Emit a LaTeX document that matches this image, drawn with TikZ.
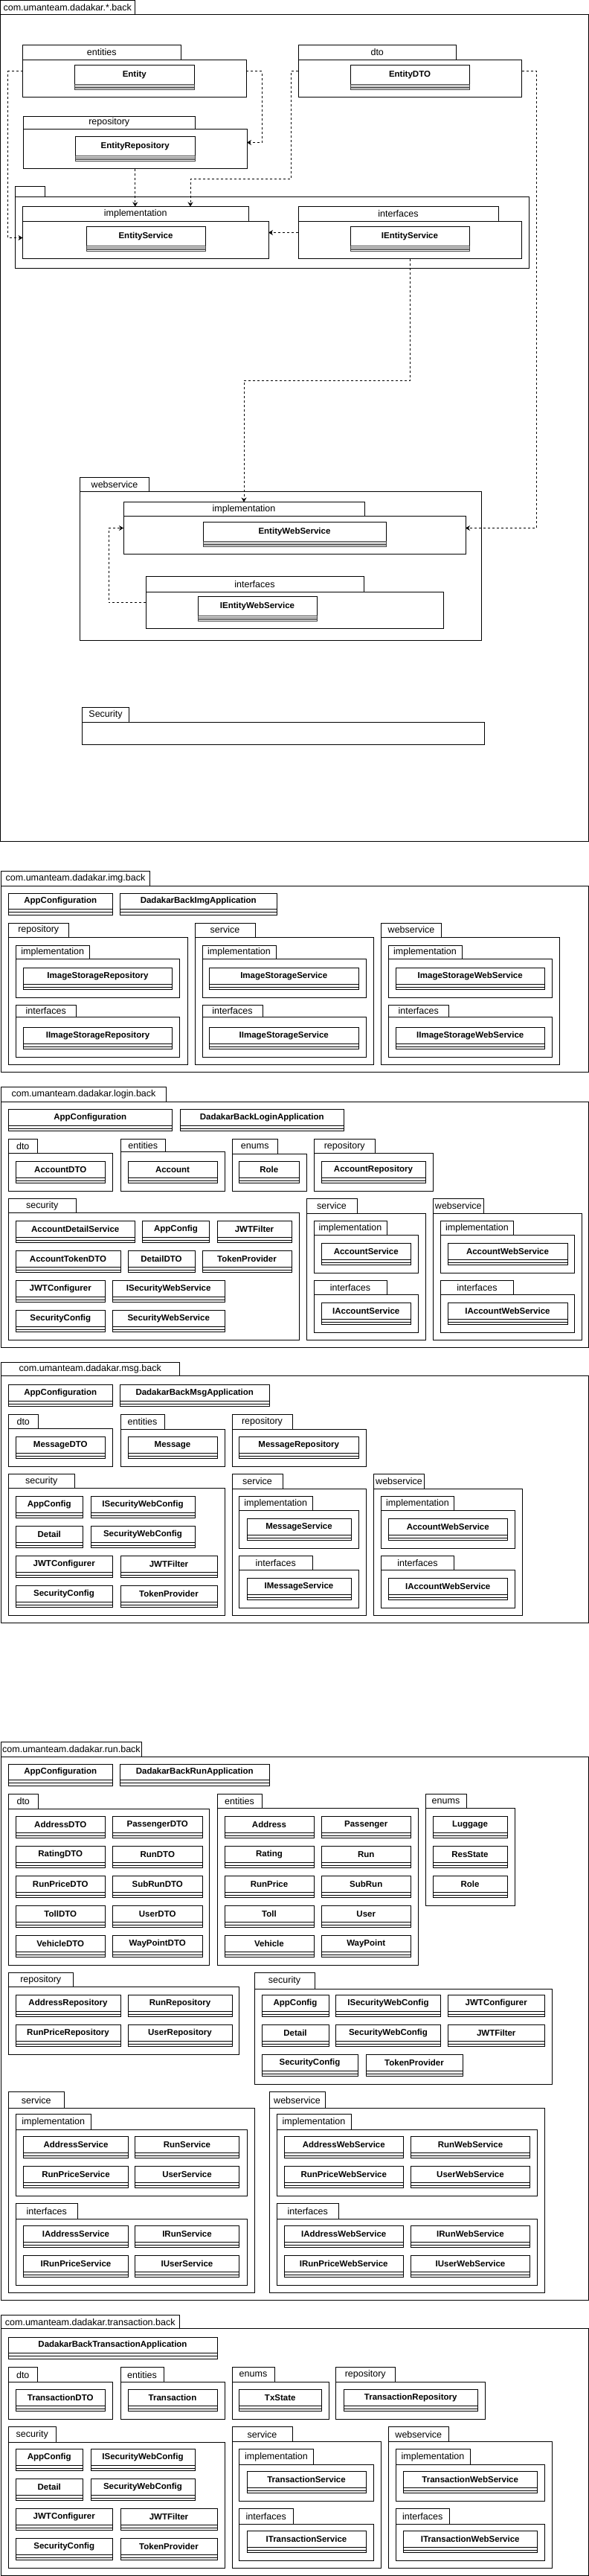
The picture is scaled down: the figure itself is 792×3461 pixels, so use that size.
\documentclass[tikz,border=0pt]{standalone}
\usepackage{fontspec}
\setmainfont{Liberation Sans}
\usetikzlibrary{arrows.meta}

\tikzset{
  pkgbody/.style={draw, line width=1pt, anchor=north west, inner sep=0pt, outer sep=0pt},
  pkgtab/.style={draw, line width=1pt, anchor=south west, inner sep=0pt, outer sep=0pt,
    font=\fontsize{12.5}{14}\selectfont},
  clsname/.style={draw, line width=1pt, anchor=north west, inner sep=0pt, outer sep=0pt,
    minimum height=21.5pt, font=\fontsize{11.5}{13}\selectfont\bfseries},
  dep/.style={line width=0.8pt, dash pattern=on 3pt off 3pt,
    -{Stealth[length=6pt,width=7pt,inset=2pt]}}
}

% name, x, y, width, height, tab width, tab height, label
\newcommand{\umlpkg}[8]{%
  \node[pkgbody, minimum width=#4pt, minimum height=#5pt] (#1) at (#2,#3) {};
  \node[pkgtab, minimum width=#6pt, minimum height=#7pt] (#1-tab) at (#1.north west) {#8};
}
% name, x, y, width, text
\newcommand{\umlclass}[5]{%
  \node[clsname, minimum width=#4pt] (#1) at (#2,#3) {#5};
  \draw[line width=1pt] (#1.south west) rectangle ([yshift=-7.5pt]#1.south east);
  \draw[line width=1pt] ([yshift=-4pt]#1.south west) -- ([yshift=-4pt]#1.south east);
}
\newcommand{\umlbigclass}[5]{%
  \node[clsname, minimum width=#4pt, minimum height=26pt] (#1) at (#2,#3) {#5};
  \draw[gray, line width=1pt] ([yshift=-1.8pt]#1.south west) -- ([yshift=-1.8pt]#1.south east);
  \draw[darkgray, line width=1pt] ([yshift=-3.5pt]#1.south west) -- ([yshift=-3.5pt]#1.south east);
  \draw[gray, line width=1pt] ([yshift=-5.2pt]#1.south west) -- ([yshift=-5.2pt]#1.south east);
  \draw[darkgray, line width=1pt] (#1.south west) rectangle ([yshift=-7pt]#1.south east);
}

\begin{document}
\begin{tikzpicture}[x=1pt,y=-1pt]
  \useasboundingbox (0,0) rectangle (792,3461);
  \fill[white] (0,0) rectangle (792,3461);

  % com.umanteam.dadakar.*.back
  \umlpkg{all}{0.5}{19.5}{791}{1110.5}{180.5}{19}{com.umanteam.dadakar.*.back}
  \umlpkg{ent}{30.5}{80}{300.5}{50.5}{212.5}{20}{entities}
  \umlbigclass{entity}{100.5}{87.5}{160.5}{Entity}
  \umlpkg{dto}{401}{80}{300.5}{50.5}{212.5}{20}{dto}
  \umlbigclass{entitydto}{471}{87.5}{160}{EntityDTO}
  \umlpkg{repo}{31.5}{173.5}{300.5}{53}{230.5}{17.5}{repository}
  \umlbigclass{entityrepo}{101.5}{183.5}{160.5}{EntityRepository}
  \umlpkg{srv}{20}{264.5}{691.5}{96}{40.5}{14}{}
  \umlpkg{impl}{30.5}{297}{330.5}{50.5}{303.5}{19.5}{implementation}
  \umlbigclass{entityservice}{116}{304.5}{160}{EntityService}
  \umlpkg{itf}{401}{297}{300.5}{50.5}{269}{19.5}{interfaces}
  \umlbigclass{ientityservice}{471}{304.5}{160}{IEntityService}
  \umlpkg{ws}{107.5}{660.5}{540}{200}{93}{19}{webservice}
  \umlpkg{wsimpl}{166}{693.5}{460}{51}{324}{19}{implementation}
  \umlbigclass{entitywebservice}{273}{701.5}{246}{EntityWebService}
  \umlpkg{wsitf}{196}{795.5}{400.5}{49}{293}{21}{interfaces}
  \umlbigclass{ientitywebservice}{266}{801.5}{160}{IEntityWebService}
  \umlpkg{sec}{110.5}{970.5}{541}{30}{63}{20}{Security}

  \coordinate (dtobend) at (256,240);
  \draw[dep] ([yshift=-15.5pt]ent.north west) -- ++(-20,0) |- ([yshift=-22.5pt]impl.north west);
  \draw[dep] ([yshift=-15.5pt]ent.north east) -- ++(21,0) |- ([yshift=-18pt]repo.north east);
  \draw[dep] (repo.south) -- (repo.south |- impl-tab.north);
  \draw[dep] ([yshift=-15.5pt]dto.north west) -- ++(-9.5,0) |- (dtobend) -- (dtobend |- impl-tab.north);
  \draw[dep] ([yshift=-15.5pt]itf.north west) -- ([yshift=-15.5pt]impl.north east);
  \draw[dep] (itf.south) -- ++(0,164) -| (wsimpl-tab.north);
  \draw[dep] ([yshift=-15.5pt]dto.north east) -- ++(19.5,0) |- ([yshift=-16pt]wsimpl.north east);
  \draw[dep] ([yshift=-14pt]wsitf.north west) -- ++(-50,0) |- ([yshift=-16pt]wsimpl.north west);

  % com.umanteam.dadakar.img.back
  \umlpkg{img}{1.5}{1190.5}{790}{249.5}{200}{20}{com.umanteam.dadakar.img.back}
  \umlclass{img-appconf}{11}{1200}{140.5}{AppConfiguration}
  \umlclass{img-app}{161.5}{1200}{210.5}{DadakarBackImgApplication}
  \umlpkg{img-repo}{11}{1259}{241}{171.5}{81.5}{19}{repository}
  \umlpkg{img-repo-impl}{21}{1288.5}{220.5}{52}{99.5}{18}{implementation}
  \umlclass{img-isr}{31.5}{1300.5}{200}{ImageStorageRepository}
  \umlpkg{img-repo-itf}{21}{1366.5}{220.5}{54}{81.5}{16}{interfaces}
  \umlclass{img-iisr}{31.5}{1380.5}{200}{IImageStorageRepository}
  \umlpkg{img-srv}{262}{1259}{240.5}{171.5}{81}{19}{service}
  \umlpkg{img-srv-impl}{272}{1288.5}{220}{52}{99}{18}{implementation}
  \umlclass{img-iss}{281.5}{1300.5}{200.5}{ImageStorageService}
  \umlpkg{img-srv-itf}{272}{1366.5}{220}{54}{81}{16}{interfaces}
  \umlclass{img-iiss}{281.5}{1380.5}{200.5}{IImageStorageService}
  \umlpkg{img-ws}{512.5}{1259}{240}{171.5}{81}{19}{webservice}
  \umlpkg{img-ws-impl}{522}{1288.5}{220.5}{52}{99}{18}{implementation}
  \umlclass{img-isws}{532}{1300.5}{200.5}{ImageStorageWebService}
  \umlpkg{img-ws-itf}{522}{1366.5}{220.5}{54}{81.5}{16}{interfaces}
  \umlclass{img-iisws}{532}{1380.5}{200.5}{IImageStorageWebService}

  % com.umanteam.dadakar.login.back
  \umlpkg{login}{1.5}{1480.5}{790}{330}{222}{20}{com.umanteam.dadakar.login.back}
  \umlclass{login-appconf}{11}{1490.5}{220.5}{AppConfiguration}
  \umlclass{login-app}{242}{1490.5}{220.5}{DadakarBackLoginApplication}
  \umlpkg{login-dto}{11}{1549.5}{140.5}{51}{39.5}{19}{dto}
  \umlclass{login-accountdto}{21}{1560.5}{120.5}{AccountDTO}
  \umlpkg{login-ent}{162}{1547.5}{140}{53}{60.5}{17}{entities}
  \umlclass{login-account}{172}{1560.5}{120}{Account}
  \umlpkg{login-enums}{312}{1550.5}{100}{50}{61.5}{20}{enums}
  \umlclass{login-role}{321.5}{1560.5}{80.5}{Role}
  \umlpkg{login-repo}{422}{1549.5}{160}{51}{82.5}{19}{repository}
  \umlclass{login-accountrepo}{432}{1560.5}{140}{AccountRepository}
  \umlpkg{login-sec}{11}{1629.5}{391}{170.5}{91.5}{19}{security}
  \umlclass{login-ads}{21}{1640.5}{160.5}{AccountDetailService}
  \umlclass{login-appconfig}{191.5}{1640.5}{90}{AppConfig}
  \umlclass{login-jwtfilter}{292}{1640.5}{100}{JWTFilter}
  \umlclass{login-atdto}{21}{1680.5}{141}{AccountTokenDTO}
  \umlclass{login-detaildto}{172}{1680.5}{90}{DetailDTO}
  \umlclass{login-tokenprov}{272}{1680.5}{120}{TokenProvider}
  \umlclass{login-jwtconf}{21}{1720.5}{120.5}{JWTConfigurer}
  \umlclass{login-isws}{151.5}{1720.5}{150.5}{ISecurityWebService}
  \umlclass{login-secconf}{21}{1760.5}{120.5}{SecurityConfig}
  \umlclass{login-sws}{151.5}{1760.5}{150.5}{SecurityWebService}
  \umlpkg{login-srv}{412}{1630.5}{160}{169.5}{68}{20}{service}
  \umlpkg{login-srv-impl}{422}{1659.5}{140.5}{51}{98}{19}{implementation}
  \umlclass{login-as}{432}{1670.5}{120.5}{AccountService}
  \umlpkg{login-srv-itf}{422}{1739.5}{140.5}{51}{98}{19}{interfaces}
  \umlclass{login-ias}{432}{1750.5}{120.5}{IAccountService}
  \umlpkg{login-ws}{582}{1630.5}{200.5}{169.5}{68.5}{20}{webservice}
  \umlpkg{login-ws-impl}{592.5}{1659.5}{180}{51}{98}{19}{implementation}
  \umlclass{login-aws}{602}{1670.5}{161}{AccountWebService}
  \umlpkg{login-ws-itf}{592.5}{1739.5}{180}{51}{98}{19}{interfaces}
  \umlclass{login-iaws}{602}{1750.5}{161}{IAccountWebService}

  % com.umanteam.dadakar.msg.back
  \umlpkg{msg}{1.5}{1848.5}{790}{332}{239.5}{18}{com.umanteam.dadakar.msg.back}
  \umlclass{msg-appconf}{11}{1860.5}{140.5}{AppConfiguration}
  \umlclass{msg-app}{161.5}{1860.5}{200.5}{DadakarBackMsgApplication}
  \umlpkg{msg-dto}{11}{1919.5}{140.5}{51}{40.5}{19}{dto}
  \umlclass{msg-messagedto}{21}{1930.5}{120.5}{MessageDTO}
  \umlpkg{msg-ent}{162}{1920.5}{140}{50}{59}{20}{entities}
  \umlclass{msg-message}{172}{1930.5}{120}{Message}
  \umlpkg{msg-repo}{312}{1920.5}{180}{50}{81}{20}{repository}
  \umlclass{msg-messagerepo}{321.5}{1930.5}{160.5}{MessageRepository}
  \umlpkg{msg-sec}{11}{1999.5}{291}{171}{89.5}{19}{security}
  \umlclass{msg-appconfig}{21}{2010.5}{90.5}{AppConfig}
  \umlclass{msg-iswc}{122}{2010.5}{140}{ISecurityWebConfig}
  \umlclass{msg-detail}{21}{2050.5}{90.5}{Detail}
  \umlclass{msg-swc}{122}{2050.5}{140}{SecurityWebConfig}
  \umlclass{msg-jwtconf}{21}{2090.5}{130.5}{JWTConfigurer}
  \umlclass{msg-jwtfilter}{162}{2090.5}{130}{JWTFilter}
  \umlclass{msg-secconf}{21}{2130.5}{130}{SecurityConfig}
  \umlclass{msg-tokenprov}{162}{2130.5}{130}{TokenProvider}
  \umlpkg{msg-srv}{312}{2000.5}{180}{170}{68}{20}{service}
  \umlpkg{msg-srv-impl}{321.5}{2029.5}{160.5}{51}{98.5}{19}{implementation}
  \umlclass{msg-ms}{332}{2040.5}{140}{MessageService}
  \umlpkg{msg-srv-itf}{321.5}{2109.5}{160.5}{51}{98.5}{19}{interfaces}
  \umlclass{msg-ims}{332}{2120.5}{140}{IMessageService}
  \umlpkg{msg-ws}{502.5}{2000.5}{200}{170}{68}{20}{webservice}
  \umlpkg{msg-ws-impl}{512.5}{2029.5}{180}{51}{98}{19}{implementation}
  \umlclass{msg-aws}{522}{2040.5}{160.5}{AccountWebService}
  \umlpkg{msg-ws-itf}{512.5}{2109.5}{180}{51}{98}{19}{interfaces}
  \umlclass{msg-iaws}{522}{2120.5}{160.5}{IAccountWebService}

  % com.umanteam.dadakar.run.back
  \umlpkg{run}{1.5}{2360.5}{790}{729.5}{189}{20}{com.umanteam.dadakar.run.back}
  \umlclass{run-appconf}{11}{2370}{140.5}{AppConfiguration}
  \umlclass{run-app}{161.5}{2370}{200.5}{DadakarBackRunApplication}
  \umlpkg{run-dto}{11}{2430.5}{270.5}{210}{40.5}{20}{dto}
  \umlclass{run-addressdto}{21}{2440.5}{120.5}{AddressDTO}
  \umlclass{run-passengerdto}{151.5}{2440.5}{120.5}{PassengerDTO}
  \umlclass{run-ratingdto}{21}{2480.5}{120.5}{RatingDTO}
  \umlclass{run-rundto}{151.5}{2480.5}{120.5}{RunDTO}
  \umlclass{run-runpricedto}{21}{2520.5}{120.5}{RunPriceDTO}
  \umlclass{run-subrundto}{151.5}{2520.5}{120.5}{SubRunDTO}
  \umlclass{run-tolldto}{21}{2560.5}{120.5}{TollDTO}
  \umlclass{run-userdto}{151.5}{2560.5}{120.5}{UserDTO}
  \umlclass{run-vehicledto}{21}{2600.5}{120.5}{VehicleDTO}
  \umlclass{run-waypointdto}{151.5}{2600.5}{120.5}{WayPointDTO}
  \umlpkg{run-ent}{292}{2429.5}{270.5}{211}{60}{19}{entities}
  \umlclass{run-address}{302}{2440.5}{120}{Address}
  \umlclass{run-passenger}{432}{2440.5}{120.5}{Passenger}
  \umlclass{run-rating}{302}{2480.5}{120}{Rating}
  \umlclass{run-run}{432}{2480.5}{120.5}{Run}
  \umlclass{run-runprice}{302}{2520.5}{120}{RunPrice}
  \umlclass{run-subrun}{432}{2520.5}{120.5}{SubRun}
  \umlclass{run-toll}{302}{2560.5}{120}{Toll}
  \umlclass{run-user}{432}{2560.5}{120.5}{User}
  \umlclass{run-vehicle}{302}{2600.5}{120}{Vehicle}
  \umlclass{run-waypoint}{432}{2600.5}{120.5}{WayPoint}
  \umlpkg{run-enums}{572}{2429.5}{120.5}{131}{55}{19}{enums}
  \umlclass{run-luggage}{582}{2440.5}{100}{Luggage}
  \umlclass{run-resstate}{582}{2480.5}{100}{ResState}
  \umlclass{run-role}{582}{2520.5}{100}{Role}
  \umlpkg{run-repo}{11}{2669.5}{310.5}{91}{87.5}{19}{repository}
  \umlclass{run-addressrepo}{21}{2680.5}{141}{AddressRepository}
  \umlclass{run-runrepo}{172}{2680.5}{140}{RunRepository}
  \umlclass{run-runpricerepo}{21}{2720.5}{141}{RunPriceRepository}
  \umlclass{run-userrepo}{172}{2720.5}{140}{UserRepository}
  \umlpkg{run-sec}{342}{2672.5}{400.5}{128}{81}{22}{security}
  \umlclass{run-appconfig}{352}{2680.5}{90}{AppConfig}
  \umlclass{run-iswc}{451.5}{2680.5}{141}{ISecurityWebConfig}
  \umlclass{run-jwtconf}{602}{2680.5}{130.5}{JWTConfigurer}
  \umlclass{run-detail}{352}{2720.5}{90}{Detail}
  \umlclass{run-swc}{451.5}{2720.5}{141}{SecurityWebConfig}
  \umlclass{run-jwtfilter}{602}{2720.5}{130.5}{JWTFilter}
  \umlclass{run-secconf}{352}{2760.5}{129}{SecurityConfig}
  \umlclass{run-tokenprov}{492}{2760.5}{130}{TokenProvider}
  \umlpkg{run-srv}{11}{2832.5}{331}{248}{75.5}{22}{service}
  \umlpkg{run-srv-impl}{21}{2861.5}{311}{89}{101.5}{21}{implementation}
  \umlclass{run-as}{31.5}{2870.5}{141}{AddressService}
  \umlclass{run-rs}{181.5}{2870.5}{140}{RunService}
  \umlclass{run-rps}{31.5}{2910.5}{141}{RunPriceService}
  \umlclass{run-us}{181.5}{2910.5}{140}{UserService}
  \umlpkg{run-srv-itf}{21}{2981.5}{311}{89}{83.5}{21}{interfaces}
  \umlclass{run-ias}{31.5}{2990.5}{141}{IAddressService}
  \umlclass{run-irs}{181.5}{2990.5}{140}{IRunService}
  \umlclass{run-irps}{31.5}{3030.5}{141}{IRunPriceService}
  \umlclass{run-ius}{181.5}{3030.5}{140}{IUserService}
  \umlpkg{run-ws}{362}{2832.5}{370.5}{248}{75}{22}{webservice}
  \umlpkg{run-ws-impl}{372}{2861.5}{350.5}{89}{100}{21}{implementation}
  \umlclass{run-aws}{382}{2870.5}{160.5}{AddressWebService}
  \umlclass{run-rws}{552.5}{2870.5}{160}{RunWebService}
  \umlclass{run-rpws}{382}{2910.5}{160.5}{RunPriceWebService}
  \umlclass{run-uws}{552.5}{2910.5}{160}{UserWebService}
  \umlpkg{run-ws-itf}{372}{2981.5}{350.5}{89}{83.5}{21}{interfaces}
  \umlclass{run-iaws}{382}{2990.5}{160.5}{IAddressWebService}
  \umlclass{run-irws}{552.5}{2990.5}{160}{IRunWebService}
  \umlclass{run-irpws}{382}{3030.5}{160.5}{IRunPriceWebService}
  \umlclass{run-iuws}{552.5}{3030.5}{160}{IUserWebService}

  % com.umanteam.dadakar.transaction.back
  \umlpkg{tx}{1.5}{3128.5}{790}{332}{239.5}{18}{com.umanteam.dadakar.transaction.back}
  \umlclass{tx-app}{11}{3140}{281}{DadakarBackTransactionApplication}
  \umlpkg{tx-dto}{11}{3200.5}{140.5}{50}{39.5}{20}{dto}
  \umlclass{tx-transactiondto}{21}{3210.5}{120.5}{TransactionDTO}
  \umlpkg{tx-ent}{162}{3200.5}{140}{50}{58}{20}{entities}
  \umlclass{tx-transaction}{172}{3210.5}{120}{Transaction}
  \umlpkg{tx-enums}{312}{3200.5}{130}{50}{57}{20}{enums}
  \umlclass{tx-txstate}{321.5}{3210.5}{110.5}{TxState}
  \umlpkg{tx-repo}{451.5}{3200.5}{201}{50}{79.5}{20}{repository}
  \umlclass{tx-transactionrepo}{462}{3210.5}{180.5}{TransactionRepository}
  \umlpkg{tx-sec}{11}{3281}{291}{169.5}{64.5}{20.5}{security}
  \umlclass{tx-appconfig}{21}{3290.5}{90.5}{AppConfig}
  \umlclass{tx-iswc}{122}{3290.5}{140}{ISecurityWebConfig}
  \umlclass{tx-detail}{21}{3330.5}{90.5}{Detail}
  \umlclass{tx-swc}{122}{3330.5}{140}{SecurityWebConfig}
  \umlclass{tx-jwtconf}{21}{3370.5}{130.5}{JWTConfigurer}
  \umlclass{tx-jwtfilter}{162}{3370.5}{130}{JWTFilter}
  \umlclass{tx-secconf}{21}{3410.5}{130.5}{SecurityConfig}
  \umlclass{tx-tokenprov}{162}{3410.5}{130}{TokenProvider}
  \umlpkg{tx-srv}{312}{3280.5}{200.5}{170}{81}{20}{service}
  \umlpkg{tx-srv-impl}{321.5}{3311}{180.5}{49.5}{100}{20.5}{implementation}
  \umlclass{tx-ts}{332}{3320.5}{160}{TransactionService}
  \umlpkg{tx-srv-itf}{321.5}{3391}{180.5}{49.5}{72.5}{20.5}{interfaces}
  \umlclass{tx-its}{332}{3400.5}{160}{ITransactionService}
  \umlpkg{tx-ws}{522}{3280.5}{220.5}{170}{81.5}{20}{webservice}
  \umlpkg{tx-ws-impl}{532}{3311}{200.5}{49.5}{100}{20.5}{implementation}
  \umlclass{tx-tws}{542}{3320.5}{180.5}{TransactionWebService}
  \umlpkg{tx-ws-itf}{532}{3391}{200.5}{49.5}{72.5}{20.5}{interfaces}
  \umlclass{tx-itws}{542}{3400.5}{180.5}{ITransactionWebService}
\end{tikzpicture}
\end{document}
